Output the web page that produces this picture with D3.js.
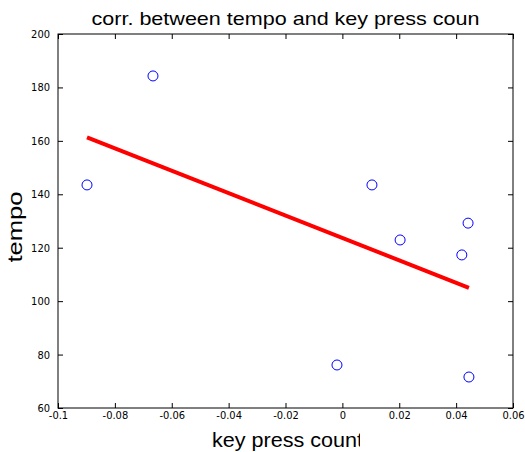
<!DOCTYPE html>
<html>
<head>
<style>
body { margin:0; background:#fff; }
.tick text { font-family:"Liberation Sans Narrow", "DejaVu Sans Condensed", Arial, sans-serif; font-size:11px; fill:#000; }
.axis path { display:none; }
.axis line { stroke:#000; }
</style>
</head>
<body>
<div id="chart"></div>
<script src="https://d3js.org/d3.v7.min.js"></script>
<script>

// key press count vs tempo
let keyCount = [-0.0898, -0.0666, 0.0104, 0.0203, 0.0442, 0.0420, -0.0019, 0.0445];
let tempo    = [143.5, 184.3, 143.5, 122.9, 129.2, 117.3, 76.1, 71.6];

// least squares fit endpoints
let fitX = [-0.0898, 0.0445];
let fitY = [161.3, 105.0];

let xTicks = [-0.1, -0.08, -0.06, -0.04, -0.02, 0, 0.02, 0.04, 0.06];
let yTicks = [60, 80, 100, 120, 140, 160, 180, 200];

let W = 525, H = 452;
let margin = {top: 34, right: 12, bottom: 44, left: 58},
    width = W - margin.left - margin.right,
    height = H - margin.top - margin.bottom;

let svg = d3.select("#chart").append("svg")
    .attr("width", W)
    .attr("height", H);

let g = svg.append("g")
    .attr("transform", "translate(" + margin.left + "," + margin.top + ")");

let x = d3.scaleLinear().domain([-0.1, 0.06]).range([0, width]),
    y = d3.scaleLinear().domain([60, 200]).range([height, 0]);

let fmtX = function(d) { return d === 0 ? "0" : String(+d.toFixed(2)); };

// box
g.append("rect")
    .attr("width", width)
    .attr("height", height)
    .attr("fill", "none")
    .attr("stroke", "#000")
    .attr("stroke-width", 1);

// bottom + left axes with inward ticks
g.append("g")
    .attr("class", "axis")
    .attr("transform", "translate(0," + height + ")")
    .call(d3.axisBottom(x).tickValues(xTicks).tickFormat(fmtX).tickSizeInner(-5))
    .selectAll("text").attr("y", 3).attr("dy", "0.71em");

g.append("g")
    .attr("class", "axis")
    .call(d3.axisLeft(y).tickValues(yTicks).tickSizeInner(-5).tickPadding(8));

// top + right ticks, no labels
g.append("g")
    .attr("class", "axis")
    .call(d3.axisTop(x).tickValues(xTicks).tickSizeInner(-5).tickFormat(""));

g.append("g")
    .attr("class", "axis")
    .attr("transform", "translate(" + width + ",0)")
    .call(d3.axisRight(y).tickValues(yTicks).tickSizeInner(-5).tickFormat(""));

// fit line
g.append("line")
    .attr("x1", x(fitX[0])).attr("y1", y(fitY[0]))
    .attr("x2", x(fitX[1])).attr("y2", y(fitY[1]))
    .attr("stroke", "#ff0000")
    .attr("stroke-width", 4);

// points
g.selectAll(".pt")
    .data(d3.range(keyCount.length))
  .enter().append("circle")
    .attr("class", "pt")
    .attr("cx", function(i) { return x(keyCount[i]); })
    .attr("cy", function(i) { return y(tempo[i]); })
    .attr("r", 5)
    .attr("fill", "none")
    .attr("stroke", "#0000ff")
    .attr("stroke-width", 1);

let labelFont = "'Liberation Sans', Arial, sans-serif";

// title
svg.append("text")
    .attr("x", margin.left + width / 2)
    .attr("y", 25)
    .attr("text-anchor", "middle")
    .attr("textLength", 388)
    .attr("lengthAdjust", "spacingAndGlyphs")
    .style("font-family", labelFont)
    .style("font-size", "19px")
    .text("corr. between tempo and key press coun");

// x label, clipped like the source
svg.append("clipPath").attr("id", "xclip")
  .append("rect").attr("x", 0).attr("y", 420).attr("width", 360).attr("height", 32);

svg.append("text")
    .attr("x", 212)
    .attr("y", 447)
    .attr("textLength", 151)
    .attr("lengthAdjust", "spacingAndGlyphs")
    .attr("clip-path", "url(#xclip)")
    .style("font-family", labelFont)
    .style("font-size", "20px")
    .text("key press count");

// y label
svg.append("text")
    .attr("transform", "translate(22,227) rotate(-90)")
    .attr("text-anchor", "middle")
    .attr("textLength", 71)
    .attr("lengthAdjust", "spacingAndGlyphs")
    .style("font-family", labelFont)
    .style("font-size", "20px")
    .text("tempo");

</script>
</body>
</html>
